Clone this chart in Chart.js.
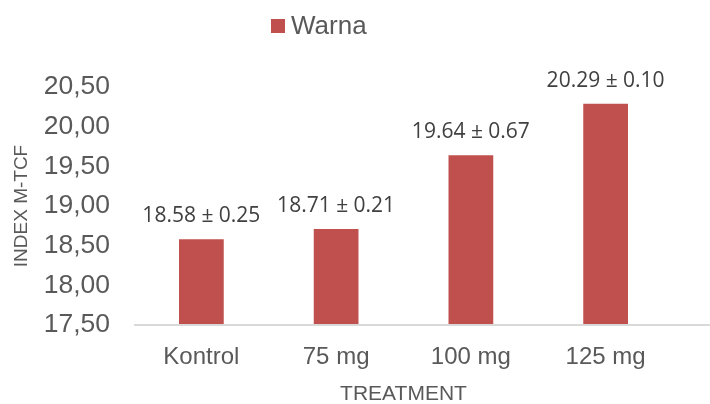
<!DOCTYPE html>
<html>
<head>
<meta charset="utf-8">
<script src="https://cdn.jsdelivr.net/npm/chart.js@4"></script>
<style>
  body { margin: 0; background: #fff; }
  #wrap { width: 710px; height: 404px; }
</style>
</head>
<body>
<div id="wrap"><canvas id="warnaChart" width="710" height="404"></canvas></div>
<script>
var kategori = ["Kontrol", "75 mg", "100 mg", "125 mg"];
var warna = [18.58, 18.71, 19.64, 20.29];
var sd = [0.25, 0.21, 0.67, 0.10];
var yTicks = [17.5, 18, 18.5, 19, 19.5, 20, 20.5];

var abu = '#595959';

// label "nilai ± sd" di atas batang
var labelBatang = {
    id: 'labelBatang',
    afterDatasetsDraw: function (chart) {
        var ctx = chart.ctx;
        var meta = chart.getDatasetMeta(0);
        ctx.save();
        ctx.fillStyle = '#404040';
        ctx.font = '21px "Open Sans"';
        ctx.textAlign = 'center';
        ctx.textBaseline = 'alphabetic';
        meta.data.forEach(function (bar, i) {
            var teks = warna[i].toFixed(2) + ' \u00b1 ' + sd[i].toFixed(2);
            ctx.fillText(teks, bar.x, bar.y - 17);
        });
        ctx.restore();
    }
};

// legend manual + garis sumbu bawah sampai tepi kanan
var hiasan = {
    id: 'hiasan',
    afterDraw: function (chart) {
        var ctx = chart.ctx;
        var ds = chart.data.datasets[0];
        var yb = chart.scales.y.bottom;
        ctx.save();
        ctx.strokeStyle = '#D9D9D9';
        ctx.lineWidth = 2;
        ctx.beginPath();
        ctx.moveTo(chart.chartArea.left, yb);
        ctx.lineTo(chart.width, yb);
        ctx.stroke();

        ctx.fillStyle = ds.backgroundColor;
        ctx.fillRect(271, 19, 14, 14);
        ctx.fillStyle = abu;
        ctx.font = '26px "Liberation Sans"';
        ctx.textAlign = 'left';
        ctx.textBaseline = 'middle';
        ctx.fillText(ds.label, 291, 27);
        ctx.restore();
    }
};

new Chart(document.getElementById('warnaChart'), {
    type: 'bar',
    data: {
        labels: kategori,
        datasets: [{
            label: 'Warna',
            data: warna,
            backgroundColor: '#C0504D',
            categoryPercentage: 1,
            barPercentage: 0.332
        }]
    },
    options: {
        responsive: false,
        animation: false,
        layout: { padding: { top: 87, right: 37, left: 0, bottom: 0 } },
        plugins: {
            legend: { display: false },
            tooltip: { enabled: false }
        },
        scales: {
            x: {
                grid: { display: false, drawTicks: false },
                border: { display: false },
                ticks: { color: abu, font: { family: 'Liberation Sans', size: 24 }, padding: 18 },
                title: { display: true, text: 'TREATMENT', color: abu, font: { family: 'Liberation Sans', size: 21 }, padding: { top: 0, bottom: -3 } },
                afterFit: function (s) { s.height = 79; }
            },
            y: {
                min: 17.5,
                max: 20.5,
                afterBuildTicks: function (s) { s.ticks = yTicks.map(function (v) { return { value: v }; }); },
                grid: { display: false, drawTicks: false },
                border: { display: false },
                ticks: {
                    color: abu,
                    font: { family: 'Liberation Sans', size: 26.5 },
                    padding: 24,
                    callback: function (v) { return v.toFixed(2).replace('.', ','); }
                },
                title: { display: true, text: 'INDEX M-TCF', color: abu, font: { family: 'Liberation Sans', size: 19 }, padding: { top: 10, bottom: 0 } },
                afterFit: function (s) { s.width = 134; }
            }
        }
    },
    plugins: [labelBatang, hiasan]
});
</script>
</body>
</html>
